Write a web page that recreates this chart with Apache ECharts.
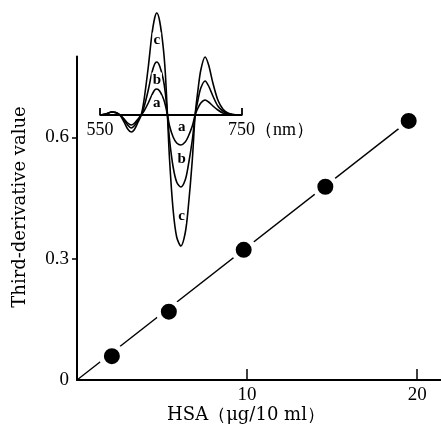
<!DOCTYPE html>
<html><head><meta charset="utf-8">
<script src="https://cdn.jsdelivr.net/npm/echarts@6/dist/echarts.min.js"></script>
<style>html,body{margin:0;padding:0;background:#fff}#c{width:441px;height:432px}</style>
</head><body><div id="c"></div>
<script>
// Main calibration data
const hsa = [2.05, 5.4, 9.8, 14.6, 19.5];
const deriv = [0.059, 0.169, 0.322, 0.478, 0.641];
const fitX = [0, 19.5];
const fitY = [0, 0.641];
const xTickValues = [10, 20];
const yTickValues = [0, 0.3, 0.6];

// Inset: third-derivative spectra (arbitrary units) vs wavelength (nm)
const wavelength = [550,558,567,572,578,584,589,594,598,603,608,612,618,623,627,630,634,639,642,645,648,653,658,664,670,674,680,684,688,692,698,703,709,716,723,730,737,747];
const curveC = [0,1,3,2.5,0,-7,-14,-17,-15,-8,0,15,48,80,97,102,94,68,42,0,-45,-95,-122,-131,-118,-95,-45,0,25,45,58,50,32,15,6,2,0.5,0];
const curveB = [0,1,3,2.5,0,-5,-10,-13,-11,-6,0,8,25,42,51,53,49,36,22,0,-25,-52,-67,-72,-65,-52,-25,0,15,27,34,29,19,9,4,1.5,0.5,0];
const curveA = [0,1,3,2.5,0,-4,-8,-10,-8.5,-4.5,0,4,12,20,25,26,24,17,10,0,-11,-22,-28,-30,-27,-22,-11,0,7,12,15,13,9,5,2,1,0.3,0];
const baselineX = [550, 550, 750, 750];
const baselineY = [7, 0, 0, 7];
const curveLabelX = [630, 630, 630, 665, 665, 665];
const curveLabelY = [75, 35, 12, -12, -44, -101];
const curveLabelText = ['c', 'b', 'a', 'a', 'b', 'c'];
const insetTickX = [550, 750];
const insetTickText = ['550', '750（nm）'];

const zip = (xs, ys) => xs.map((x, i) => [x, ys[i]]);
const tickFont = 'Liberation Serif';
const titleFont = 'DejaVu Serif';

const chart = echarts.init(document.getElementById('c'));
chart.setOption({
  animation: false,
  backgroundColor: '#fff',
  grid: [
    { left: 77, right: 0, top: 56.6, bottom: 52 },
    { left: 100, width: 142, top: 10, height: 245 }
  ],
  xAxis: [
    { type: 'value', gridIndex: 0, min: 0, max: 21.4,
      axisLine: { lineStyle: { color: '#000', width: 2 } },
      axisTick: { inside: true, length: 11, customValues: xTickValues, lineStyle: { color: '#000', width: 1.5 } },
      axisLabel: { customValues: xTickValues, margin: 6, color: '#000', fontFamily: tickFont, fontSize: 19 },
      splitLine: { show: false } },
    { type: 'value', gridIndex: 1, min: 550, max: 750, show: false }
  ],
  yAxis: [
    { type: 'value', gridIndex: 0, min: 0, max: 0.8,
      axisLine: { show: true, lineStyle: { color: '#000', width: 2 } },
      axisTick: { show: true, length: 5, customValues: [0.3, 0.6], lineStyle: { color: '#000', width: 1.5 } },
      axisLabel: { customValues: yTickValues, margin: 8, color: '#000', fontFamily: tickFont, fontSize: 19 },
      splitLine: { show: false } },
    { type: 'value', gridIndex: 1, min: -140, max: 105, show: false }
  ],
  graphic: [
    { type: 'text', x: 20, y: 207, rotation: Math.PI / 2,
      style: { text: 'Third-derivative value', fontFamily: titleFont, fontSize: 18, fill: '#000', align: 'center', verticalAlign: 'middle' } },
    { type: 'text', x: 246, y: 415,
      style: { text: 'HSA（μg/10 ml）', fontFamily: titleFont, fontSize: 18, fill: '#000', align: 'center', verticalAlign: 'middle' } }
  ],
  series: [
    { type: 'line', xAxisIndex: 0, yAxisIndex: 0, data: zip(fitX, fitY), symbol: 'none',
      lineStyle: { color: '#000', width: 1.4 }, z: 2 },
    { type: 'scatter', xAxisIndex: 0, yAxisIndex: 0, data: zip(hsa, deriv), symbolSize: 21,
      itemStyle: { color: '#000', borderColor: '#fff', borderWidth: 5, opacity: 1 }, z: 3 },
    { type: 'line', xAxisIndex: 1, yAxisIndex: 1, data: zip(baselineX, baselineY), symbol: 'none',
      lineStyle: { color: '#000', width: 1.8 }, z: 4 },
    { type: 'line', xAxisIndex: 1, yAxisIndex: 1, data: zip(wavelength, curveA), symbol: 'none', smooth: 0.3,
      lineStyle: { color: '#000', width: 1.6 }, z: 4 },
    { type: 'line', xAxisIndex: 1, yAxisIndex: 1, data: zip(wavelength, curveB), symbol: 'none', smooth: 0.3,
      lineStyle: { color: '#000', width: 1.6 }, z: 4 },
    { type: 'line', xAxisIndex: 1, yAxisIndex: 1, data: zip(wavelength, curveC), symbol: 'none', smooth: 0.3,
      lineStyle: { color: '#000', width: 1.6 }, z: 4 },
    { type: 'scatter', xAxisIndex: 1, yAxisIndex: 1, symbolSize: 0, z: 5,
      itemStyle: { opacity: 1 },
      data: curveLabelX.map((x, i) => ({ value: [x, curveLabelY[i]], name: curveLabelText[i] })),
      label: { show: true, position: 'inside', formatter: p => p.name, fontFamily: tickFont, fontSize: 15, fontWeight: 'bold', color: '#000',
               backgroundColor: '#fff', padding: [0, 1] } },
    { type: 'scatter', xAxisIndex: 1, yAxisIndex: 1, symbolSize: 0, z: 5,
      itemStyle: { opacity: 1 },
      data: insetTickX.map((x, i) => ({ value: [x, -15], name: insetTickText[i],
        label: i === 1 ? { align: 'left', offset: [-14, 0] } : {} })),
      label: { show: true, position: 'inside', formatter: p => p.name, fontFamily: tickFont, fontSize: 18, color: '#000' } }
  ]
});
</script></body></html>
